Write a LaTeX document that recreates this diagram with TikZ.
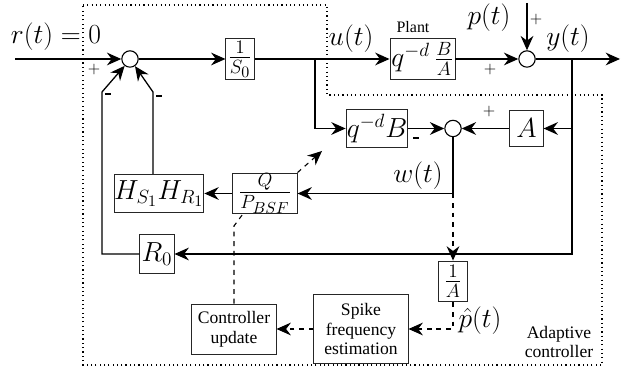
\documentclass[tikz,border=0pt]{standalone}
\usepackage{amsmath}
\usepackage{fontspec}
\setmainfont{Liberation Serif}
\usepackage{tikz}
\usetikzlibrary{arrows.meta}
\usetikzlibrary{positioning}
\usetikzlibrary{calc}
\tikzset{
    block/.style={draw=black!85, line width=0.6pt, inner sep=0pt, font=\LARGE},
    sumpoint/.style={draw=black, circle, minimum size=0.36cm, inner sep=0pt, line width=0.7pt},
    signal/.style={draw=black, line width=0.8pt, -{Stealth[length=9pt,width=8pt,inset=3pt]}},
    adapt/.style={draw=black, dashed, line width=0.7pt, -{Stealth[length=9pt,width=8pt,inset=3pt]}},
    adaptnoarrow/.style={draw=black, dashed, line width=0.7pt},
    region/.style={draw=black, dotted, line width=0.7pt},
    siglabel/.style={font=\LARGE},
    txt/.style={font=\fontsize{11}{12.5}\selectfont, align=center},
    sign/.style={font=\normalsize, inner sep=0pt},
}
\newcommand{\minussign}{\rule[0.5ex]{3.5pt}{1.4pt}}

\begin{document}
\begin{tikzpicture}[x=0.22cm, y=-0.22cm]
	\useasboundingbox (0,0) rectangle (62.9,36.8);
	% adaptive controller region
	\draw[region] (8.3,0.5) -- (32.7,0.5) -- (32.7,9.5) -- (60.2,9.5) -- (60.2,36.5) -- (8.3,36.5) -- cycle;
	% blocks
	\node[sumpoint] (c1) at (13,5.9) {};
	\node[block, minimum width=0.62cm, minimum height=0.9cm] (S0) at (24,5.9) {$\frac{1}{S_0}$};
	\node[block, minimum width=1.43cm, minimum height=0.9cm] (plant) at (42.25,5.9) {$q^{-d}\,\frac{B}{A}$};
	\node[sumpoint] (c2) at (52.7,5.9) {};
	\node[block, minimum width=1.36cm, minimum height=0.84cm] (qB) at (37.7,12.85) {$q^{-d}B$};
	\node[sumpoint] (c3) at (45.3,12.85) {};
	\node[block, minimum width=0.73cm, minimum height=0.81cm] (A) at (52.65,12.85) {$A$};
	\node[block, minimum width=1.41cm, minimum height=0.9cm] (Q) at (26.5,19.35) {$\frac{Q}{P_{BSF}}$};
	\node[block, minimum width=1.94cm, minimum height=0.84cm] (H) at (15.9,19.35) {$H_{S_1}H_{R_1}$};
	\node[block, minimum width=0.75cm, minimum height=0.84cm] (R0) at (15.7,25.4) {$R_0$};
	\node[block, minimum width=0.62cm, minimum height=0.9cm] (invA) at (45.3,28.15) {$\frac{1}{A}$};
	\node[block, txt, minimum width=2.07cm, minimum height=1.5cm] (spike) at (36.1,32.9) {Spike\\frequency\\estimation};
	\node[block, txt, minimum width=1.85cm, minimum height=1.1cm] (ctrl) at (23.4,32.9) {Controller\\update};
	% points
	\coordinate (rin) at (1.5,5.9);
	\coordinate (yout) at (62,5.9);
	\coordinate (ptop) at (52.7,0.3);
	\coordinate (usplit) at (31.5,5.9);
	\coordinate (ysplit) at (57.2,5.9);
	\coordinate (asplit) at (57.2,12.85);
	\coordinate (wsplit) at (45.3,19.35);
	\coordinate (lbend) at (10.2,9.2);
	\coordinate (rbend) at (15.3,9.2);
	\coordinate (cbend) at (23.4,22.6);
	\coordinate (qarrow) at (32.2,15.1);
	% signals
	\draw[signal] (rin) -- (c1.west);
	\draw[signal] (c1.east) -- (S0.west);
	\draw[signal] (S0.east) -- (plant.west);
	\draw[signal] (plant.east) -- (c2.west);
	\draw[signal] (ptop) -- (c2.north);
	\draw[signal] (c2.east) -- (yout);
	\draw[signal] (usplit) |- (qB.west);
	\draw[signal] (ysplit) |- (A.east);
	\draw[signal] (A.west) -- (c3.east);
	\draw[signal] (qB.east) -- (c3.west);
	\draw[signal] (c3.south) |- (Q.east);
	\draw[signal] (Q.west) -- (H.east);
	\draw[signal] (H.north -| rbend) -- (rbend) -- (c1.305);
	\draw[signal] (asplit) |- (R0.east);
	\draw[signal] (R0.west) -| (lbend) -- (c1.232);
	% adaptation
	\draw[adapt] (wsplit) -- (invA.north);
	\draw[adapt] (invA.south) |- (spike.east);
	\draw[adapt] (spike.west) -- (ctrl.east);
	\draw[adaptnoarrow] (ctrl.north) -- (cbend) -- (Q.223);
	\draw[adapt] (Q.north east) -- (qarrow);
	% labels
	\node[siglabel] (rlab) at (5.6,3.7) {$r(t) = 0$};
	\node[siglabel] (ulab) at (35.1,3.9) {$u(t)$};
	\node[siglabel] (plab) at (48.9,1.8) {$p(t)$};
	\node[siglabel] (ylab) at (56.8,3.9) {$y(t)$};
	\node[siglabel] (wlab) at (41.8,17.6) {$w(t)$};
	\node[siglabel, inner sep=0pt] (phlab) at (48.0,32.1) {$\hat{p}(t)$};
	\node[font=\fontsize{10}{12}\selectfont] (plantlab) at (41.3,2.7) {Plant};
	\node[txt] (adlab) at (55.9,34.2) {Adaptive\\controller};
	\node[sign] (s1) at (9.4,7.0) {$+$};
	\node[sign] (s2) at (10.8,9.6) {\minussign};
	\node[sign] (s3) at (15.9,9.8) {\minussign};
	\node[sign] (s4) at (53.6,2.0) {$+$};
	\node[sign] (s5) at (49.0,7.0) {$+$};
	\node[sign] (s6) at (48.9,11.2) {$+$};
	\node[sign] (s7) at (41.6,14.0) {\minussign};
\end{tikzpicture}
\end{document}
